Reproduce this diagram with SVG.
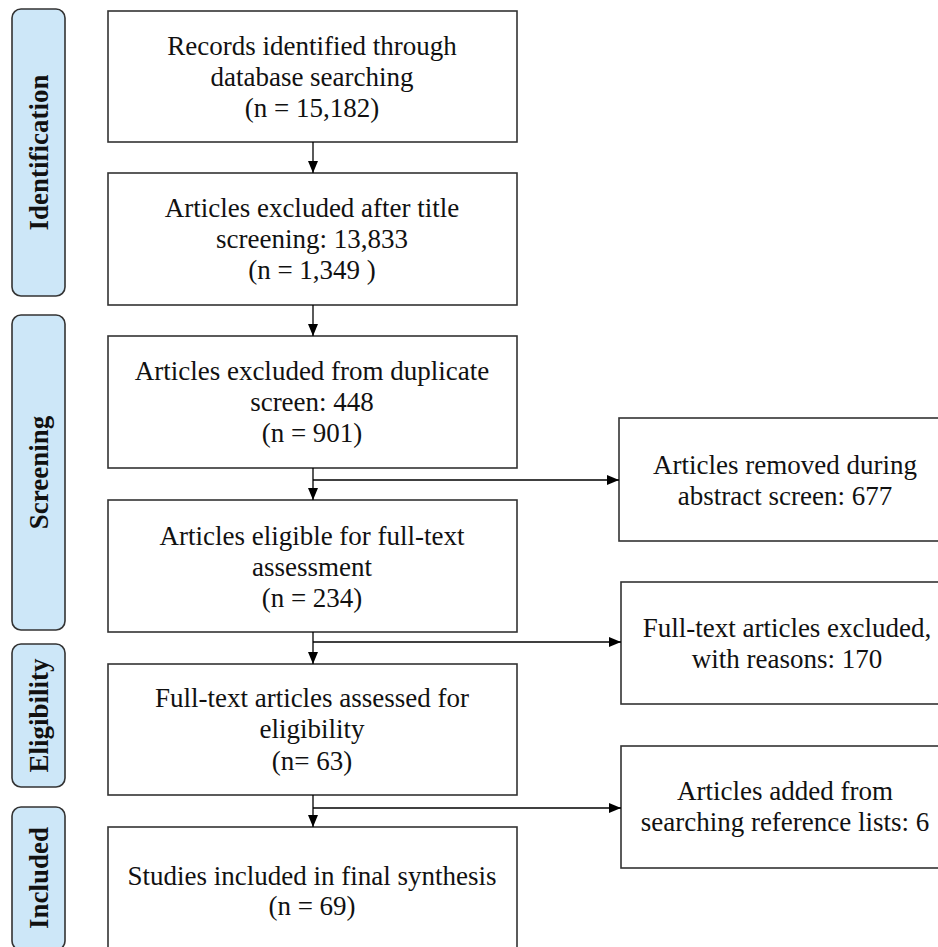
<svg xmlns="http://www.w3.org/2000/svg" width="938" height="947" viewBox="0 0 938 947">
<style>
.box{fill:#fff;stroke:#333;stroke-width:1.6}
.stage{fill:#cde7f8;stroke:#333;stroke-width:1.6}
.t{font-family:"Liberation Serif","Times New Roman",serif;font-size:27px;fill:#111;text-anchor:middle}
.st{font-family:"Liberation Serif","Times New Roman",serif;font-size:27px;font-weight:bold;fill:#111;text-anchor:middle}
.c{stroke:#000;stroke-width:1.3;fill:none}
</style>
<defs>
<marker id="ah" viewBox="0 0 12 10" refX="12" refY="5" markerWidth="12" markerHeight="10" markerUnits="userSpaceOnUse" orient="auto">
<path d="M0,0 L12,5 L0,10 z" fill="#000"/>
</marker>
</defs>
<g id="stage-identification">
<rect class="stage" x="12" y="9" width="53" height="287" rx="9"/>
<text class="st" transform="translate(48,152.5) rotate(-90)">Identification</text>
</g>
<g id="stage-screening">
<rect class="stage" x="12" y="315" width="53" height="315" rx="9"/>
<text class="st" transform="translate(48,472.5) rotate(-90)">Screening</text>
</g>
<g id="stage-eligibility">
<rect class="stage" x="12" y="644" width="53" height="143" rx="9"/>
<text class="st" transform="translate(48,715.5) rotate(-90)">Eligibility</text>
</g>
<g id="stage-included">
<rect class="stage" x="12" y="807" width="53" height="143" rx="9"/>
<text class="st" transform="translate(48,878) rotate(-90)">Included</text>
</g>
<g id="n1">
<rect class="box" x="108" y="11" width="409" height="131"/>
<text class="t" x="312" y="54.5">Records identified through</text>
<text class="t" x="312" y="85.5">database searching</text>
<text class="t" x="312" y="116.5">(n = 15,182)</text>
</g>
<g id="n2">
<rect class="box" x="108" y="173" width="409" height="132"/>
<text class="t" x="312" y="217">Articles excluded after title</text>
<text class="t" x="312" y="248">screening: 13,833</text>
<text class="t" x="312" y="279">(n = 1,349 )</text>
</g>
<g id="n3">
<rect class="box" x="108" y="336" width="409" height="132"/>
<text class="t" x="312" y="380">Articles excluded from duplicate</text>
<text class="t" x="312" y="411">screen: 448</text>
<text class="t" x="312" y="442">(n = 901)</text>
</g>
<g id="n4">
<rect class="box" x="108" y="500" width="409" height="132"/>
<text class="t" x="312" y="545">Articles eligible for full-text</text>
<text class="t" x="312" y="576">assessment</text>
<text class="t" x="312" y="607">(n = 234)</text>
</g>
<g id="n5">
<rect class="box" x="108" y="664" width="409" height="131"/>
<text class="t" x="312" y="707">Full-text articles assessed for</text>
<text class="t" x="312" y="738">eligibility</text>
<text class="t" x="312" y="770">(n= 63)</text>
</g>
<g id="n6">
<rect class="box" x="108" y="827" width="409" height="140"/>
<text class="t" x="312" y="885">Studies included in final synthesis</text>
<text class="t" x="312" y="915">(n = 69)</text>
</g>
<g id="s1">
<rect class="box" x="619" y="418" width="331" height="123"/>
<text class="t" x="785" y="474">Articles removed during</text>
<text class="t" x="785" y="505">abstract screen: 677</text>
</g>
<g id="s2">
<rect class="box" x="621" y="582" width="329" height="122"/>
<text class="t" x="787" y="637">Full-text articles excluded,</text>
<text class="t" x="787" y="668">with reasons: 170</text>
</g>
<g id="s3">
<rect class="box" x="621" y="746" width="329" height="122"/>
<text class="t" x="785" y="800">Articles added from</text>
<text class="t" x="785" y="831">searching reference lists: 6</text>
</g>
<g id="connectors">
<line class="c" x1="313" y1="142" x2="313" y2="173" marker-end="url(#ah)"/>
<line class="c" x1="313" y1="305" x2="313" y2="336" marker-end="url(#ah)"/>
<line class="c" x1="313" y1="468" x2="313" y2="500" marker-end="url(#ah)"/>
<line class="c" x1="313" y1="632" x2="313" y2="664" marker-end="url(#ah)"/>
<line class="c" x1="313" y1="795" x2="313" y2="827" marker-end="url(#ah)"/>
<line class="c" x1="313" y1="480" x2="619" y2="480" marker-end="url(#ah)"/>
<line class="c" x1="313" y1="642" x2="621" y2="642" marker-end="url(#ah)"/>
<line class="c" x1="313" y1="808" x2="621" y2="808" marker-end="url(#ah)"/>
</g>
</svg>
